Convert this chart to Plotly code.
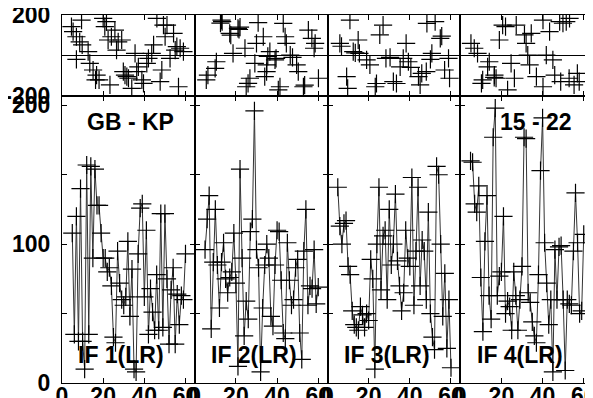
import plotly.graph_objects as go
from plotly.subplots import make_subplots

# bottom row: amplitude vs time, one series per IF
amp_x = list(range(5, 61))
amp_if1 = [108, 35, 120, 30, 140, 30, 10, 157, 35, 156, 90, 154, 128, 128, 108, 90,
           90, 80, 83, 70, 33, 29, 95, 72, 60, 56, 62, 102, 48, 82, 10, 8,
           93, 126, 129, 62, 110, 35, 68, 51, 38, 78, 38, 122, 40, 122, 75, 28,
           67, 83, 28, 64, 42, 63, 60, 93]
amp_if2 = [96, 118, 135, 39, 87, 125, 85, 54, 87, 101, 75, 65, 76, 80, 108, 72,
           12, 154, 90, 34, 59, 46, 109, 118, 196, 96, 83, 8, 54, 85, 100, 90,
           48, 41, 85, 110, 109, 74, 36, 32, 101, 74, 56, 60, 83, 89, 36, 17,
           95, 125, 56, 70, 68, 96, 57, 69]
amp_if3 = [141, 113, 100, 115, 117, 84, 78, 52, 42, 40, 38, 55, 49, 40, 50, 45,
           89, 75, 10, 100, 141, 67, 106, 110, 60, 125, 85, 100, 136, 88, 70, 52,
           65, 110, 90, 84, 148, 56, 95, 141, 70, 103, 95, 60, 123, 50, 33, 24,
           156, 150, 100, 48, 79, 25, 60, 11]
amp_if4 = [160, 159, 129, 123, 142, 76, 37, 102, 135, 63, 46, 177, 198, 63, 77, 80,
           120, 50, 59, 55, 38, 80, 63, 38, 60, 84, 177, 176, 65, 58, 44, 34,
           29, 78, 153, 191, 101, 72, 42, 60, 8, 96, 60, 98, 99, 60, 9, 60,
           57, 56, 95, 137, 101, 50, 52, 107]

# top row: phase vs time
ph1_x = [4.6, 5.4, 7, 8.6, 9.5, 9.8, 12.7, 7, 13.5, 15.1, 16.8, 16.3, 18, 20, 20.8, 21.6,
         22.4, 23.3, 24, 25.7, 26.5, 27.3, 29, 29.8, 30.6, 31.5, 32.3, 33.9, 35.5, 36.3,
         37.1, 38.8, 39.6, 41.2, 42, 43.6, 44.5, 46.1, 47.7, 48.5, 49.3, 50.1, 51, 52.5,
         54.2, 55, 55.8, 56.6, 57.4, 59]
ph1_y = [142, 117, 92, 67, 175, 52, 18, -20, -40, -73, -98, -122, -122, 183, 142, 167,
         76, -147, 92, 125, 26, 67, 76, -81, -98, -106, -114, -164, 10, -81,
         -57, -122, -139, -40, -15, 10, 52, 183, -131, -73, 150, 92, 150, -15,
         109, 26, 43, -156, 35, 18]
ph2_x = [13, 13.3, 12.5, 17, 17.5, 21, 21.5, 22, 30.8, 33.3, 30, 24.4, 18.6, 43, 43.9,
         44.5, 55.2, 56.9, 58.5, 58, 36.5, 35.5, 39, 39.5, 46.4, 47.5, 29.2, 35, 34.9,
         49.5, 50.3, 10.5, 9.9, 6.4, 5.6, 60.1, 34, 26.8, 25.9, 25, 41.4, 40.6, 52.8, 53.4]
ph2_y = [175, 167, 160, 109, 100, 134, 128, 140, 162, 92, 59, 35, 10, 158, 92,
         59, 125, 84, 59, 35, 18, -5, -23, -15, 1, -10, -40, -48, -81,
         -48, -81, -32, -65, -98, -122, -114, -106, -114, -139, -156, -156, -172, -156, -148]
ph3_x = [10.9, 14.9, 6, 6.8, 12.5, 13.5, 15.5, 19, 20.6, 27, 25.4, 28.4, 9.3, 9.8, 23.2,
         23.8, 48.3, 52.3, 54.8, 55.5, 38.2, 50.7, 58.8, 36.8, 39.3, 35.3, 40.5, 44.2,
         45.8, 45, 48, 56.9, 59.3, 32, 33.5, 30.4, 50]
ph3_y = [175, 76, 59, 45, 18, 12, 10, -23, -48, 150, 101, -15, -106, -164, -156,
         -140, 158, 167, 84, 95, 59, 10, -15, -15, -32, -57, -60, -106,
         -90, -147, -81, -73, -114, -131, -140, -10, -20]
ph4_x = [5.2, 6.8, 8.4, 14.1, 13.3, 10.9, 10.3, 16.6, 17.4, 19, 20.6, 22, 27.2, 31.2,
         32, 34.5, 40.2, 43.4, 48.3, 49.9, 51.5, 53.1, 32.8, 24.7, 33.7, 41.8, 45, 45.9,
         37, 40.2, 23, 26.3, 16.5, 48.8, 52.9, 55.3, 56.9, 57.8]
ph4_y = [59, 35, 10, -32, -57, -122, -139, -98, -114, 76, 150, 142, 150, 101,
         59, 109, 175, 117, 167, 159, 167, 183, 1, -40, -48, 1, -23, -98,
         -106, -156, -172, -114, -110, -131, -114, -147, -90, -131]

phase_x = [ph1_x, ph2_x, ph3_x, ph4_x]
phase_y = [ph1_y, ph2_y, ph3_y, ph4_y]
amps = [amp_if1, amp_if2, amp_if3, amp_if4]
if_labels = ["IF 1(LR)", "IF 2(LR)", "IF 3(LR)", "IF 4(LR)"]

FONT = dict(family="Liberation Sans, Arial, sans-serif", size=23, color="black", weight="bold")
marker = dict(symbol="cross-thin", size=13, line=dict(width=1.2, color="black"))

fig = make_subplots(rows=2, cols=4, horizontal_spacing=0, vertical_spacing=0,
                    row_heights=[0.219, 0.781])

for i in range(4):
    fig.add_trace(go.Scatter(x=phase_x[i], y=phase_y[i], mode="markers",
                             marker=marker, showlegend=False), row=1, col=i + 1)
    fig.add_trace(go.Scatter(x=amp_x, y=amps[i], mode="lines+markers",
                             line=dict(color="#333", width=1),
                             marker=marker, showlegend=False), row=2, col=i + 1)

axis_style = dict(showline=True, linecolor="black", linewidth=1, mirror="ticks",
                  ticks="inside", ticklen=5, tickwidth=1, tickcolor="black",
                  showgrid=False, zeroline=False, tickfont=FONT, automargin=False,
                  ticklabeloverflow="allow")

for i in range(4):
    fig.update_xaxes(axis_style, range=[0, 64.5], tickvals=[0, 20, 40, 60],
                     showticklabels=False, row=1, col=i + 1)
    fig.update_xaxes(axis_style, range=[0, 64.5], tickvals=[0, 20, 40, 60],
                     ticklabelstandoff=-8, row=2, col=i + 1)
    fig.update_yaxes(axis_style, range=[-200, 200], tickvals=[-200, 0, 200],
                     ticktext=["-200", "", "200"], zeroline=True, zerolinecolor="black",
                     zerolinewidth=1, showticklabels=(i == 0), ticklabelstandoff=6,
                     row=1, col=i + 1)
    fig.update_yaxes(axis_style, range=[0, 207], tickvals=[0, 50, 100, 150, 200],
                     ticktext=["0", "", "100", "", "200"], showticklabels=(i == 0),
                     ticklabelstandoff=6, row=2, col=i + 1)
    fig.add_annotation(x=7, y=20, xref=f"x{i + 5}", yref=f"y{i + 5}", text=if_labels[i],
                       showarrow=False, xanchor="left", yanchor="middle", font=FONT)

fig.add_annotation(x=33.5, y=188, xref="x5", yref="y5", text="GB - KP",
                   showarrow=False, font=FONT)
fig.add_annotation(x=37, y=188, xref="x8", yref="y8", text="15 - 22",
                   showarrow=False, font=FONT)

# page body has an 8px margin, so size the figure to land the plot where the reference has it
fig.update_layout(width=585, height=390, margin=dict(l=54, r=0, t=7, b=15),
                  paper_bgcolor="white", plot_bgcolor="white", font=FONT)

fig.write_html("out.html")
